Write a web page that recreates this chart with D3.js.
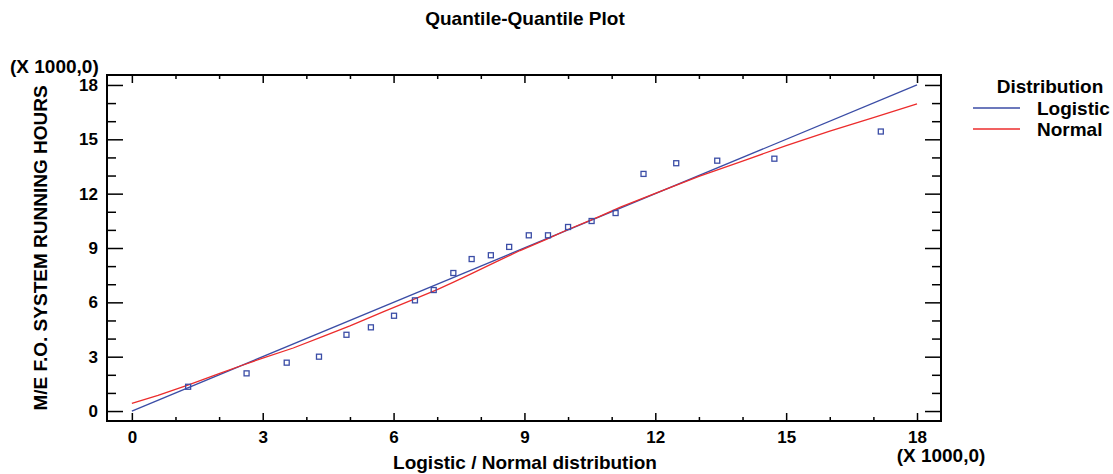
<!DOCTYPE html>
<html>
<head>
<meta charset="utf-8">
<script src="https://cdn.jsdelivr.net/npm/d3@7"></script>
<style>
  html, body { margin: 0; padding: 0; background: #fff; }
  svg { display: block; }
  text { font-family: "Liberation Sans", Arial, sans-serif; font-weight: bold; fill: #000; }
</style>
</head>
<body>
<svg id="chart" width="1113" height="474"></svg>
<script>
// Observed quantiles (thousands of hours) against fitted distribution quantiles
const obsX = [1.29, 2.63, 3.55, 4.29, 4.92, 5.48, 6.01, 6.49, 6.92, 7.37, 7.79, 8.23,
              8.65, 9.10, 9.54, 10.00, 10.54, 11.09, 11.73, 12.48, 13.42, 14.73, 17.17];
const obsY = [1.34, 2.08, 2.67, 3.00, 4.21, 4.62, 5.26, 6.11, 6.68, 7.62, 8.39, 8.60,
              9.06, 9.70, 9.70, 10.16, 10.49, 10.93, 13.09, 13.68, 13.82, 13.93, 15.43];

// Reference curves for the two fitted distributions
const logisticX = [0, 18];
const logisticY = [0, 18];
const normalX = [0, 0.6, 1.3, 2, 2.5, 3, 3.7, 4.4, 5, 5.8, 6.5, 7, 7.4, 7.8, 8.3, 8.9,
                 9.5, 10, 10.7, 11.2, 12, 13, 14, 15, 16, 17, 18];
const normalY = [0.42, 0.86, 1.44, 2.06, 2.5, 2.92, 3.48, 4.14, 4.7, 5.52, 6.2, 6.7, 7.14,
                 7.6, 8.18, 8.86, 9.48, 10.02, 10.72, 11.26, 12.02, 12.95, 13.8, 14.65, 15.45,
                 16.2, 16.95];

const tickValues = [0, 3, 6, 9, 12, 15, 18];
const minorValues = d3.range(0, 19).filter(v => v % 3 !== 0);

const seriesNames = ["Logistic", "Normal"];
const seriesColors = ["#3b4da6", "#ec2c2c"];

const svg = d3.select("#chart");
const plot = { left: 107, top: 75, right: 941, bottom: 421 };

const x = d3.scaleLinear().domain([-0.57, 18.55]).range([plot.left, plot.right]);
const y = d3.scaleLinear().domain([-0.55, 18.55]).range([plot.bottom, plot.top]);

// Title
svg.append("text")
  .attr("x", 525).attr("y", 25)
  .attr("text-anchor", "middle")
  .style("font-size", "19px")
  .text("Quantile-Quantile Plot");

// Axes: ticks drawn inward on all four sides
const W = plot.right - plot.left, H = plot.bottom - plot.top;

svg.append("g").attr("transform", `translate(0,${plot.bottom})`)
  .call(d3.axisBottom(x).tickValues(tickValues).tickSizeInner(-8).tickSizeOuter(0).tickPadding(10).tickFormat(d3.format("d")))
  .call(g => g.select(".domain").remove());
svg.append("g").attr("transform", `translate(0,${plot.bottom})`)
  .call(d3.axisBottom(x).tickValues(minorValues).tickSizeInner(-4).tickSizeOuter(0).tickFormat(""))
  .call(g => g.select(".domain").remove());

svg.append("g").attr("transform", `translate(0,${plot.top})`)
  .call(d3.axisTop(x).tickValues(tickValues).tickSizeInner(-8).tickSizeOuter(0).tickFormat(""))
  .call(g => g.select(".domain").remove());
svg.append("g").attr("transform", `translate(0,${plot.top})`)
  .call(d3.axisTop(x).tickValues(minorValues).tickSizeInner(-4).tickSizeOuter(0).tickFormat(""))
  .call(g => g.select(".domain").remove());

svg.append("g").attr("transform", `translate(${plot.left},0)`)
  .call(d3.axisLeft(y).tickValues(tickValues).tickSizeInner(-16).tickSizeOuter(0).tickPadding(9).tickFormat(d3.format("d")))
  .call(g => g.select(".domain").remove());
svg.append("g").attr("transform", `translate(${plot.left},0)`)
  .call(d3.axisLeft(y).tickValues(minorValues).tickSizeInner(-9).tickSizeOuter(0).tickFormat(""))
  .call(g => g.select(".domain").remove());

svg.append("g").attr("transform", `translate(${plot.right},0)`)
  .call(d3.axisRight(y).tickValues(tickValues).tickSizeInner(-16).tickSizeOuter(0).tickFormat(""))
  .call(g => g.select(".domain").remove());
svg.append("g").attr("transform", `translate(${plot.right},0)`)
  .call(d3.axisRight(y).tickValues(minorValues).tickSizeInner(-9).tickSizeOuter(0).tickFormat(""))
  .call(g => g.select(".domain").remove());

svg.selectAll(".tick line").attr("stroke", "#000").attr("stroke-width", 1.5);
svg.selectAll(".tick text")
  .style("font-size", "17px")
  .style("font-family", "'Liberation Sans', Arial, sans-serif")
  .style("font-weight", "bold")
  .attr("fill", "#000");

// Frame
svg.append("rect")
  .attr("x", plot.left).attr("y", plot.top)
  .attr("width", W).attr("height", H)
  .attr("fill", "none").attr("stroke", "#000").attr("stroke-width", 2);

// Scale multipliers
svg.append("text").attr("x", 10).attr("y", 73).style("font-size", "19px").text("(X 1000,0)");
svg.append("text").attr("x", 941).attr("y", 462).attr("text-anchor", "middle").style("font-size", "19px").text("(X 1000,0)");

// Axis titles
svg.append("text")
  .attr("x", 525).attr("y", 469)
  .attr("text-anchor", "middle")
  .style("font-size", "19px")
  .text("Logistic / Normal distribution");
svg.append("text")
  .attr("transform", "translate(47,248) rotate(-90)")
  .attr("text-anchor", "middle")
  .style("font-size", "19px")
  .text("M/E F.O. SYSTEM RUNNING HOURS");

// Curves
const line = d3.line().x(d => x(d[0])).y(d => y(d[1]));
const clipId = "plot-clip";
svg.append("clipPath").attr("id", clipId)
  .append("rect").attr("x", plot.left).attr("y", plot.top).attr("width", W).attr("height", H);

const curves = [
  d3.zip(logisticX, logisticY),
  d3.zip(normalX, normalY)
];
svg.append("g").attr("clip-path", `url(#${clipId})`)
  .selectAll("path").data(curves).join("path")
  .attr("d", line)
  .attr("fill", "none")
  .attr("stroke", (d, i) => seriesColors[i])
  .attr("stroke-width", 1.3);

// Observations
const s = 5;
svg.append("g").selectAll("rect").data(d3.zip(obsX, obsY)).join("rect")
  .attr("x", d => x(d[0]) - s / 2)
  .attr("y", d => y(d[1]) - s / 2)
  .attr("width", s).attr("height", s)
  .attr("fill", "none")
  .attr("stroke", "#3b4da6")
  .attr("stroke-width", 1.3);

// Legend
const legend = svg.append("g");
legend.append("text").attr("x", 1050).attr("y", 93).attr("text-anchor", "middle")
  .style("font-size", "19px").text("Distribution");
seriesNames.forEach((name, i) => {
  const yy = 108 + i * 21;
  legend.append("line")
    .attr("x1", 973).attr("x2", 1020).attr("y1", yy).attr("y2", yy)
    .attr("stroke", seriesColors[i]).attr("stroke-width", 1.3);
  legend.append("text").attr("x", 1037).attr("y", yy + 7)
    .style("font-size", "19px").text(name);
});
</script>
</body>
</html>
